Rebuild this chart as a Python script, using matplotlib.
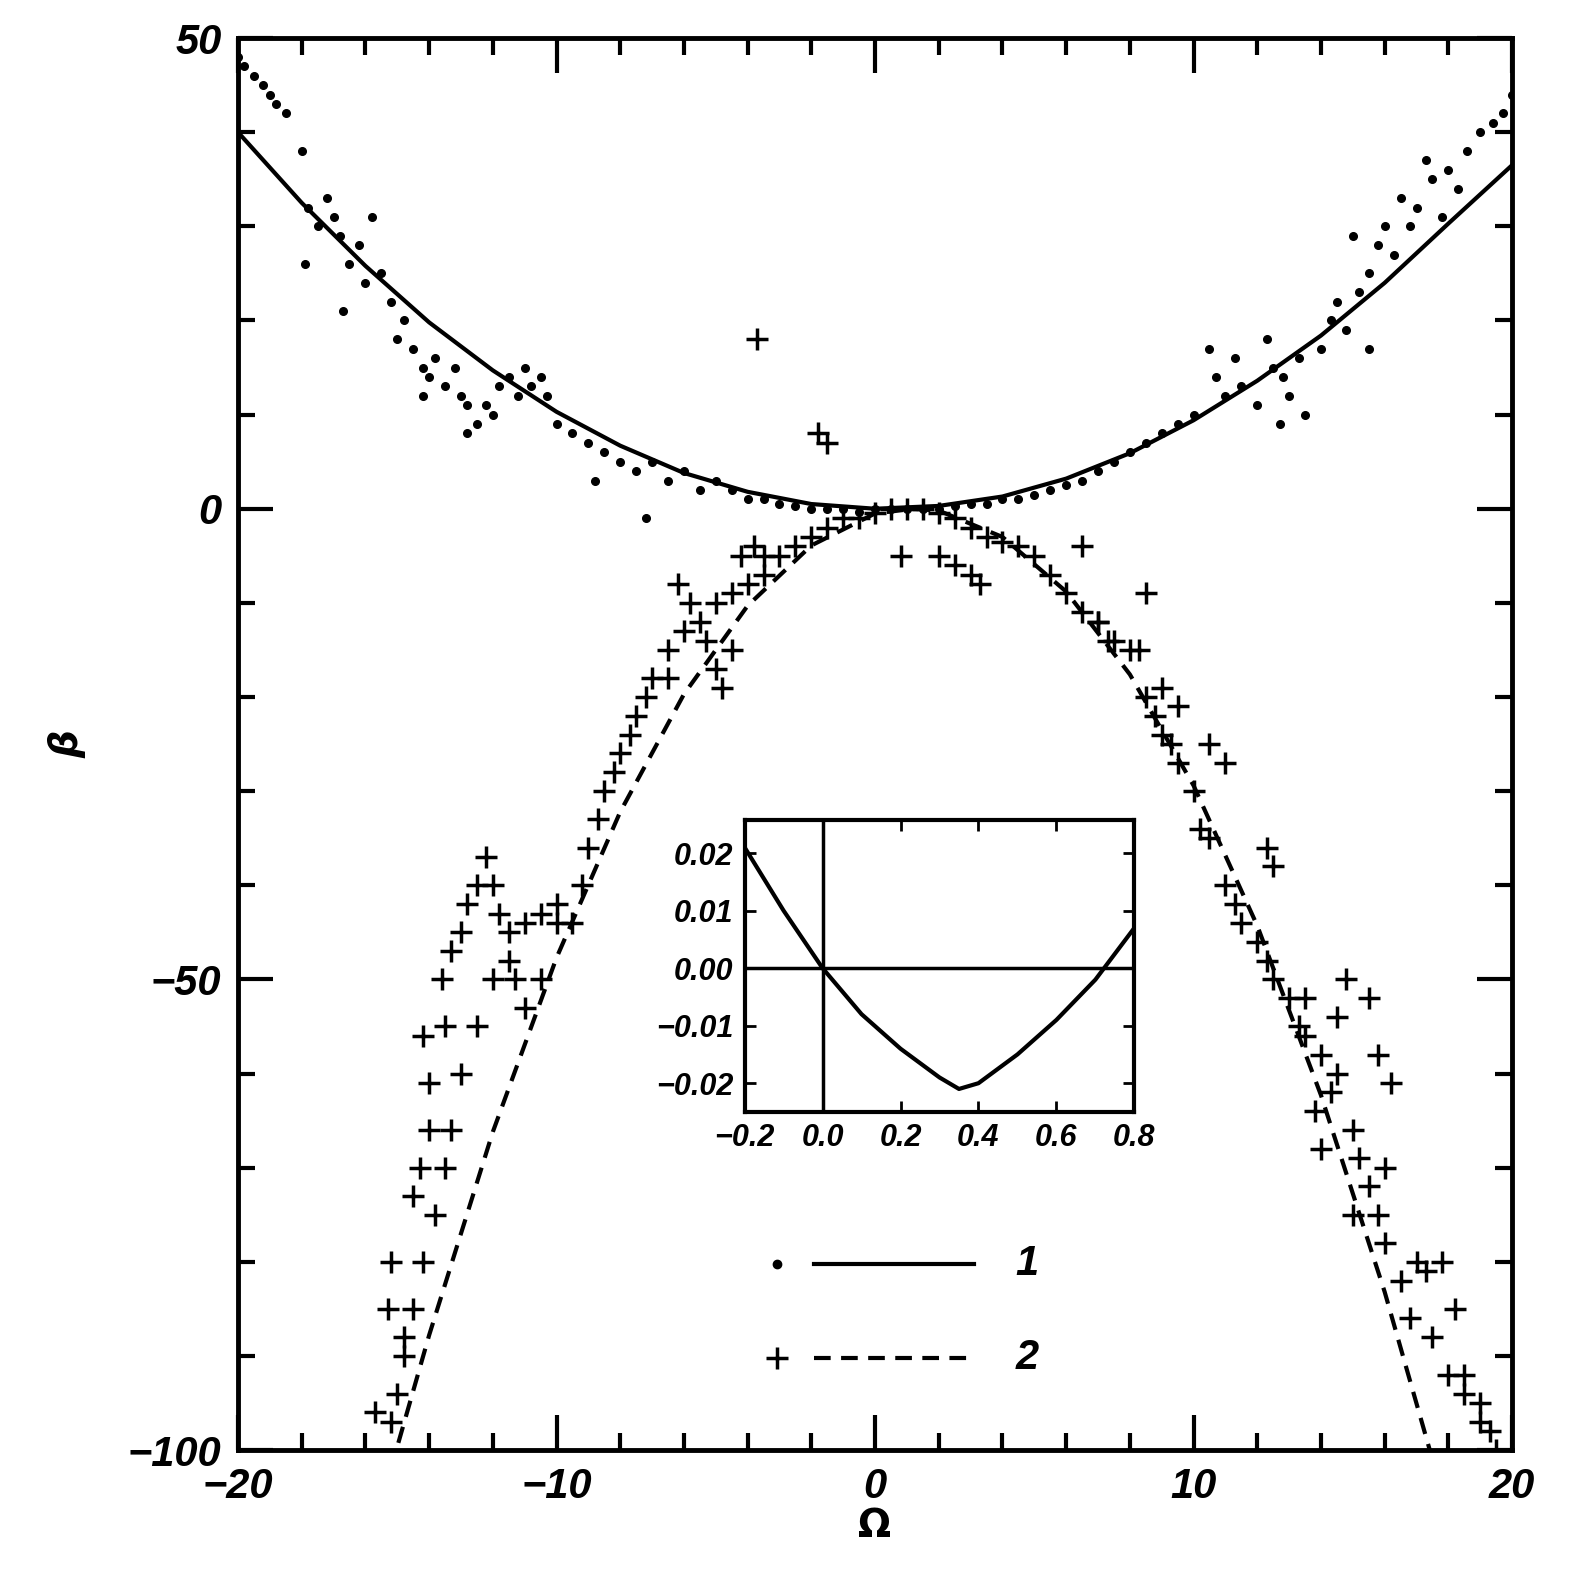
import matplotlib
matplotlib.use("Agg")
import matplotlib.pyplot as plt

# ---- data ----
dots_x = [-20,-19.8,-19.5,-19.2,-19,-18.8,-18.5,-18,-17.8,-17.5,-17.2,-17,-16.8,-16.5,-16.2,-16,-15.8,-15.5,-15.2,-15,-14.8,-14.5,-14.2,-14,-13.8,-13.5,-13.2,-13,-12.8,-12.5,-12.2,-12,-11.8,-11.5,-11.2,-11,-10.8,-10.5,-10,-9.5,-9,-8.5,-8,-7.5,-7,-6.5,-6,-5.5,-5,-4.5,-4,-3.5,-3,-2.5,-2,-1.5,-1,-0.5,0,0.5,1,1.5,2,2.5,3,3.5,4,4.5,5,5.5,6,6.5,7,7.5,8,8.5,9,9.5,10,10.5,10.7,11,11.3,11.5,12,12.3,12.5,12.8,13,13.3,13.5,14,14.3,14.5,14.8,15,15.2,15.5,15.8,16,16.3,16.5,16.8,17,17.3,17.5,17.8,18,18.3,18.6,19,19.4,19.7,20,-17.9,-16.7,-14.2,-12.8,-10.3,-8.8,-7.2,12.7,15.5]
dots_y = [48,47,46,45,44,43,42,38,32,30,33,31,29,26,28,24,31,25,22,18,20,17,15,14,16,13,15,12,11,9,11,10,13,14,12,15,13,14,9,8,7,6,5,4,5,3,4,2,3,2,1,1,0.5,0.3,0,0,0,-0.3,0,0,0,0,0,0.3,0.5,0.5,1,1,1.5,2,2.5,3,4,5,6,7,8,9,10,17,14,12,16,13,11,18,15,14,12,16,10,17,20,22,19,29,23,25,28,30,27,33,30,32,37,35,31,36,34,38,40,41,42,44,26,21,12,8,12,3,-1,9,17]

plus_x = [-15.2,-15,-14.8,-14.5,-14.2,-13.8,-13.5,-13.3,-13,-12.5,-12,-11.5,-11,-10.5,-10,-9.5,-9.2,-9,-8.7,-8.5,-8.2,-8,-7.7,-7.5,-7.2,-7,-6.5,-6,-5.5,-5,-4.5,-4,-3.5,-3,-2.5,-2,-1.5,-1,-0.5,0,0.5,1,1.5,2,2.5,3,3.5,4,4.5,5,5.5,6,6.5,7,7.5,8,8.3,8.5,8.8,9,9.3,9.5,10,10.2,10.5,11,11.3,11.5,12,12.3,12.5,13,13.3,13.5,14,14.3,14.5,15,15.2,15.5,15.8,16,16.5,16.8,17,17.3,17.5,18,18.5,19,19.3,19.5,
          -15.7,-15.3,-15.2,-14.8,-14.5,-14.3,-14,-14.2,-14,-13.6,-13.3,-13.5,-13,-12.8,-12.5,-12.2,-12,-11.8,-11.5,-11.3,-11,-10.5,-10,-6.5,-6.2,-5.8,-5.3,-5,-4.8,-4.5,-4.2,-3.8,-3.5,-3.7,-1.8,-1.5,0.8,2,2.5,3,3.3,6.5,7,7.3,8.5,9,9.5,10.5,11,12.3,12.5,13.5,14.5,14.8,15.5,15.8,16.2,15,16,17.8,18.2,18.5,19,14,13.8]
plus_y = [-97,-94,-90,-85,-80,-75,-70,-66,-60,-55,-50,-45,-44,-43,-42,-44,-40,-36,-33,-30,-28,-26,-24,-22,-20,-18,-15,-13,-12,-10,-9,-8,-7,-5,-4,-3,-2,-1,-1,-0.5,0,0,0,-0.5,-1,-2,-3,-3.5,-4,-5,-7,-9,-11,-12,-14,-15,-15,-20,-22,-24,-25,-27,-30,-34,-35,-40,-42,-44,-46,-48,-50,-52,-55,-56,-58,-62,-60,-66,-69,-72,-75,-78,-82,-86,-80,-81,-88,-92,-94,-95,-98,-100,
          -96,-85,-80,-88,-73,-70,-66,-56,-61,-50,-47,-55,-45,-42,-40,-37,-40,-43,-48,-50,-53,-50,-44,-18,-8,-10,-14,-17,-19,-15,-5,-4,-5,18,8,7,-5,-5,-6,-7,-8,-4,-12,-14,-9,-19,-21,-25,-27,-36,-38,-52,-54,-50,-52,-58,-61,-75,-70,-80,-85,-92,-97,-68,-64]

fit1_x = [-20,-18,-16,-14,-12,-10,-8,-6,-4,-2,0,2,4,6,8,10,12,14,16,18,20]
fit1_y = [40,32.5,25.8,19.8,14.7,10.3,6.7,3.8,1.8,0.5,0,0.3,1.3,3.2,5.9,9.4,13.6,18.4,24,30.3,36.5]
fit2_x = [-15.2,-14,-12,-10,-8,-6,-4,-2,0,1.2,2,4,6,8,10,12,14,16,17.5]
fit2_y = [-102,-87.8,-66.2,-47.7,-32.2,-19.7,-10.3,-3.9,-0.5,0,-0.2,-3.0,-8.8,-17.6,-29.4,-44.3,-62.3,-83.2,-101]

ins_x = [-0.2,-0.1,0,0.1,0.2,0.3,0.35,0.4,0.5,0.6,0.7,0.8]
ins_y = [0.021,0.010,0,-0.008,-0.014,-0.019,-0.021,-0.020,-0.015,-0.009,-0.002,0.007]

font = dict(family="Liberation Sans", weight="bold", style="italic")

fig = plt.figure(figsize=(15.91, 15.94), dpi=100)
ax = fig.add_axes([0.1496, 0.0903, 0.8008, 0.8858])
ax.plot(dots_x, dots_y, 'o', color='k', ms=5.5, ls='none')
ax.plot(plus_x, plus_y, '+', color='k', ms=16, mew=2.5, ls='none')
ax.plot(fit1_x, fit1_y, '-', color='k', lw=3)
ax.plot(fit2_x, fit2_y, '--', color='k', lw=3, dashes=(4, 2.5))
ax.set_xlim(-20, 20)
ax.set_ylim(-100, 50)
ax.set_xticks([-20, -10, 0, 10, 20])
ax.set_xticks(range(-20, 21, 2), minor=True)
ax.set_yticks([-100, -50, 0, 50])
ax.set_yticks(range(-100, 51, 10), minor=True)
ax.set_xticklabels(['\u221220', '\u221210', '0', '10', '20'], fontsize=30, **font)
ax.set_yticklabels(['\u2212100', '\u221250', '0', '50'], fontsize=30, **font)
ax.tick_params(which='both', direction='in', top=True, right=True, width=3)
ax.tick_params(which='major', length=25, pad=12)
ax.tick_params(which='minor', length=12)
for s in ax.spines.values():
    s.set_linewidth(3.5)
ax.set_xlabel('\u03a9', fontsize=28, fontweight='bold', labelpad=0)
ax.set_ylabel('\u03b2', fontsize=28, fontweight='bold', style='italic', labelpad=30)

# legend drawn in axes coordinates
tr = ax.transAxes
ax.plot([0.423], [0.132], 'o', color='k', ms=6, transform=tr)
ax.plot([0.452, 0.578], [0.132, 0.132], '-', color='k', lw=3, transform=tr)
ax.text(0.61, 0.132, '1', transform=tr, fontsize=30, va='center', **font)
ax.plot([0.423], [0.065], '+', color='k', ms=16, mew=2.5, transform=tr)
ax.plot([0.452, 0.578], [0.065, 0.065], '--', color='k', lw=3, dashes=(4, 2.5), transform=tr)
ax.text(0.61, 0.065, '2', transform=tr, fontsize=30, va='center', **font)

# inset
ins = fig.add_axes([0.468, 0.3024, 0.245, 0.183])
ins.plot(ins_x, ins_y, '-', color='k', lw=3)
ins.axhline(0, color='k', lw=2.5)
ins.axvline(0, color='k', lw=2.5)
ins.set_xlim(-0.2, 0.8)
ins.set_ylim(-0.025, 0.0257)
ins.set_xticks([-0.2, 0, 0.2, 0.4, 0.6, 0.8])
ins.set_xticklabels(['\u22120.2', '0.0', '0.2', '0.4', '0.6', '0.8'], fontsize=22, **font)
ins.set_yticks([-0.02, -0.01, 0, 0.01, 0.02])
ins.set_yticklabels(['\u22120.02', '\u22120.01', '0.00', '0.01', '0.02'], fontsize=22, **font)
ins.tick_params(which='both', direction='in', top=True, right=True, width=2, length=8, pad=8)
for s in ins.spines.values():
    s.set_linewidth(3)

fig.savefig('out.png', dpi=100)
